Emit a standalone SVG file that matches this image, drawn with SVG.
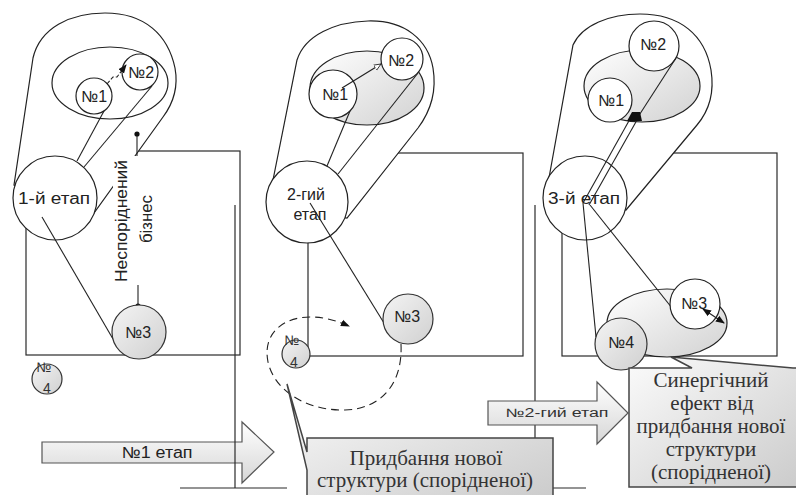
<svg xmlns="http://www.w3.org/2000/svg" width="796" height="495" viewBox="0 0 796 495">
<defs>
<linearGradient id="gEll" x1="0" y1="0" x2="1" y2="1"><stop offset="0" stop-color="#ffffff"/><stop offset="1" stop-color="#d2d2d2"/></linearGradient>
<linearGradient id="gCir" x1="0" y1="0" x2="1" y2="1"><stop offset="0" stop-color="#f4f4f4"/><stop offset="1" stop-color="#d0d0d0"/></linearGradient>
<linearGradient id="gArr" x1="0" y1="0" x2="0" y2="1"><stop offset="0" stop-color="#ffffff"/><stop offset="1" stop-color="#d6d6d6"/></linearGradient>
<linearGradient id="gBox" x1="0" y1="0" x2="1" y2="1"><stop offset="0" stop-color="#fbfbfb"/><stop offset="1" stop-color="#cbcbcb"/></linearGradient>
<marker id="ahB" markerWidth="9" markerHeight="8" refX="8" refY="4" orient="auto" markerUnits="userSpaceOnUse"><path d="M0,0.5 L9,4 L0,7.5 Z" fill="#111"/></marker>
<marker id="ahBs" markerWidth="9" markerHeight="8" refX="8" refY="4" orient="auto-start-reverse" markerUnits="userSpaceOnUse"><path d="M0,0.5 L9,4 L0,7.5 Z" fill="#111"/></marker>
<marker id="ahO" markerWidth="8" markerHeight="8" refX="7" refY="4" orient="auto" markerUnits="userSpaceOnUse"><path d="M0,1 L7,4 L0,7 Z" fill="#fff" stroke="#222" stroke-width="0.8"/></marker>
</defs>
<style>
.fr{fill:none;stroke:#2a2a2a;stroke-width:1.2}
.ln{fill:none;stroke:#222;stroke-width:1.1}
.wh{fill:#fff;stroke:#222;stroke-width:1.2}
.el{fill:url(#gEll);stroke:#222;stroke-width:1.2}
.gr{fill:url(#gCir);stroke:#333;stroke-width:1.2}
.ar{fill:url(#gArr);stroke:#555;stroke-width:1.2}
.bx{fill:url(#gBox);stroke:#444;stroke-width:1.5}
.t{font-family:"Liberation Sans",Arial,sans-serif;font-size:16px;fill:#222;text-anchor:middle}
.ts{font-family:"Liberation Sans",Arial,sans-serif;font-size:14px;fill:#333;text-anchor:middle}
.tb{font-family:"Liberation Serif","Times New Roman",serif;font-size:21px;fill:#333;text-anchor:middle}
</style>
<rect width="796" height="495" fill="#fff"/>

<g id="frames">
<rect class="fr" x="26" y="151" width="214" height="204"/>
<rect class="fr" x="308" y="153" width="215" height="203"/>
<rect class="fr" x="562" y="153" width="215" height="203"/>
</g>

<g id="p1-balloon"><path class="wh" d="M14,185 L33,58 C40,28 70,13 105,13 C145,13 168,35 175,68 C179,90 172,105 163,117 L94,213 Z"/></g>
<g id="p2-balloon"><path class="wh" d="M268,205 L297,60 C305,35 335,22 368,21 C405,20 428,40 433,68 C437,92 430,112 418,128 L347,218 Z"/></g>
<g id="p3-balloon"><path class="wh" d="M545,200 L573,45 C582,25 610,14 640,14 C680,14 705,35 711,70 C715,95 708,112 697,125 L626,210 Z"/></g>

<g id="p1-group"><ellipse class="wh" cx="110" cy="83" rx="58" ry="36"/></g>
<g id="p2-group"><ellipse class="el" cx="367" cy="88" rx="57" ry="37"/></g>
<g id="p3-group"><ellipse class="el" cx="642" cy="86" rx="58" ry="36"/></g>
<g id="p3-group-low"><ellipse class="el" cx="667" cy="323" rx="60" ry="34"/></g>

<g id="p1-n1"><circle class="wh" cx="94" cy="96" r="18"/><text class="t" x="94" y="102">№1</text></g>
<g id="p1-n2"><circle class="wh" cx="140" cy="72" r="18"/><text class="t" x="141" y="78">№2</text></g>
<g id="p2-n1"><circle class="wh" cx="333" cy="94" r="24"/><text class="t" x="335" y="100">№1</text></g>
<g id="p2-n2"><circle class="wh" cx="402" cy="59" r="21"/><text class="t" x="401" y="66">№2</text></g>
<g id="p3-n1"><circle class="wh" cx="610" cy="100" r="22"/><text class="t" x="611" y="106">№1</text></g>
<g id="p3-n2"><circle class="wh" cx="654" cy="46" r="25"/><text class="t" x="653" y="50">№2</text></g>

<g id="p1-stage"><circle class="wh" cx="55" cy="198" r="42"/><text class="t" x="54" y="204" textLength="72" lengthAdjust="spacingAndGlyphs">1-й етап</text></g>
<g id="p2-stage"><circle class="wh" cx="307" cy="202" r="41"/><text class="t" x="306" y="200">2-гий</text><text class="t" x="310" y="220">етап</text></g>
<g id="p3-stage"><circle class="wh" cx="585" cy="198" r="42"/><text class="t" x="584" y="204" textLength="72" lengthAdjust="spacingAndGlyphs">3-й етап</text></g>

<g id="connectors">
<line class="ln" x1="77" y1="161" x2="104" y2="111"/>
<line class="ln" x1="84" y1="167" x2="152" y2="86"/>
<polyline class="ln" points="107,84 113,77 117,77 126,65" stroke-dasharray="4,2" marker-end="url(#ahB)"/>
<line class="ln" x1="42" y1="217" x2="113" y2="339"/>
<line class="ln" x1="327" y1="166" x2="350" y2="111"/>
<line class="ln" x1="338" y1="174" x2="418" y2="73"/>
<line class="ln" x1="342" y1="88" x2="381" y2="64" marker-end="url(#ahO)"/>
<line class="ln" x1="310" y1="203" x2="384" y2="323"/>
<path class="ln" d="M401,344 C403,385 380,409 345,410 C310,411 275,393 268,362 C262,332 285,317 310,317 C323,317 335,320 349,326" stroke-dasharray="8,5" stroke-width="1.3" marker-end="url(#ahB)"/>
<line class="ln" x1="583" y1="203" x2="630" y2="119"/>
<line class="ln" x1="589" y1="205" x2="637" y2="120"/>
<line class="ln" x1="636" y1="120" x2="676" y2="58"/>
<polygon points="627,121 632,112 640,112 642,121" fill="#111"/>
<line class="ln" x1="583" y1="203" x2="596" y2="337"/>
<line class="ln" x1="590" y1="205" x2="672" y2="308"/>
<line class="ln" x1="137" y1="133" x2="137" y2="156"/>
<circle cx="137" cy="134" r="2.6" fill="#111"/>
<line class="ln" x1="138" y1="284" x2="138" y2="306"/>
<circle cx="138" cy="306" r="2.6" fill="#111"/>
</g>

<g id="p1-label">
<rect x="113" y="156" width="44" height="129" fill="#fff"/>
<text class="t" transform="translate(127,221) rotate(-90)" textLength="122" lengthAdjust="spacingAndGlyphs">Неспоріднений</text>
<text class="t" transform="translate(152,219) rotate(-90)" textLength="48" lengthAdjust="spacingAndGlyphs">бізнес</text>
</g>

<g id="p1-n3"><circle class="gr" cx="139" cy="332" r="27"/><text class="t" x="138" y="338">№3</text></g>
<g id="p1-n4"><circle class="gr" cx="47" cy="379" r="15"/><text class="ts" x="44" y="372">№</text><text class="ts" x="47" y="393">4</text></g>
<g id="p2-n3"><circle class="gr" cx="408" cy="319" r="25"/><text class="t" x="407" y="322">№3</text></g>
<g id="p2-n4"><circle class="gr" cx="296" cy="354" r="14"/><text class="ts" x="292" y="345">№</text><text class="ts" x="294" y="367">4</text></g>
<g id="p3-n3"><circle class="wh" cx="695" cy="304" r="25"/><text class="t" x="694" y="309">№3</text></g>
<g id="p3-n4"><circle class="gr" cx="621" cy="344" r="26"/><text class="t" x="621" y="348">№4</text></g>

<g id="connectors-top">
<line class="ln" x1="703" y1="309" x2="724" y2="323" stroke-width="1.3" marker-start="url(#ahBs)" marker-end="url(#ahB)"/>
</g>

<g id="arrow-stage1"><polygon class="ar" points="42,442 242,442 242,422 274,452 242,483 242,463 42,463"/><text class="t" x="157" y="458" textLength="71" lengthAdjust="spacingAndGlyphs">№1 етап</text></g>

<g id="separators">
<line class="fr" x1="235" y1="205" x2="235" y2="488"/>
<line class="fr" x1="180" y1="488" x2="287" y2="488"/>
<line class="fr" x1="535" y1="205" x2="535" y2="488"/>
<line class="fr" x1="552" y1="488" x2="586" y2="488"/>
</g>

<g id="arrow-stage2"><polygon class="ar" points="488,401 597,401 597,382 628,413 597,444 597,425 488,425"/><text class="ts" x="557" y="417" style="font-size:12px" textLength="103" lengthAdjust="spacingAndGlyphs">№2-гий етап</text></g>

<g id="box-acquisition">
<path class="bx" d="M307,438 L553,438 L553,500 L307,500 L307,470 L287,384 L307,452 Z"/>
<text class="tb" x="426" y="465">Придбання нової</text>
<text class="tb" x="425" y="487">структури (спорідненої)</text>
</g>

<g id="box-synergy">
<path class="bx" d="M629,368 L692,368 L671,357 L793,368 L800,368 L800,487 L629,487 Z"/>
<text class="tb" x="711" y="387">Синергічний</text>
<text class="tb" x="712" y="410">ефект від</text>
<text class="tb" x="711" y="433">придбання нової</text>
<text class="tb" x="711" y="456">структури</text>
<text class="tb" x="711" y="479">(спорідненої)</text>
</g>
</svg>
